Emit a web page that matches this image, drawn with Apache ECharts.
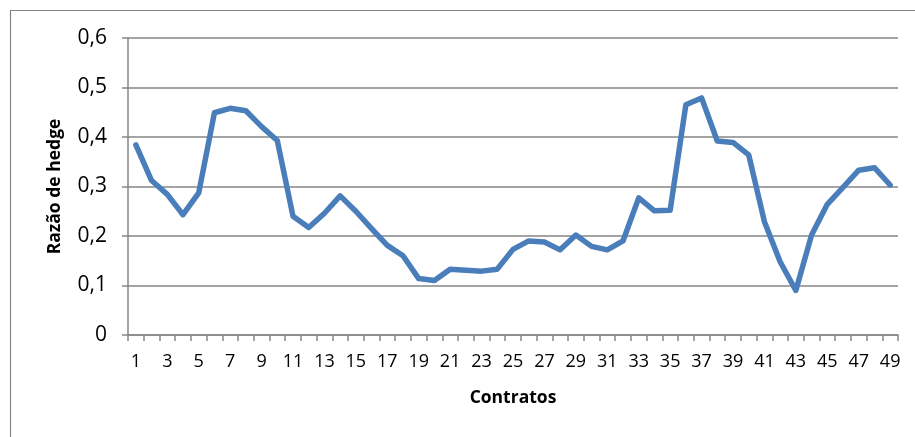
<!DOCTYPE html>
<html><head><meta charset="utf-8">
<script src="https://cdn.jsdelivr.net/npm/echarts@6/dist/echarts.min.js"></script>
<style>html,body{margin:0;padding:0;background:#fff}#c{width:915px;height:437px}</style>
</head><body><div id="c"></div>
<script>
const categories = Array.from({length: 49}, (_, i) => String(i + 1));
const hedgeRatio = [0.384,0.312,0.284,0.243,0.287,0.449,0.458,0.453,0.421,0.393,
  0.240,0.217,0.246,0.281,0.250,0.215,0.181,0.160,0.114,0.110,
  0.133,0.131,0.129,0.133,0.173,0.190,0.188,0.172,0.202,0.179,
  0.172,0.190,0.277,0.251,0.252,0.465,0.479,0.392,0.389,0.364,
  0.229,0.148,0.090,0.202,0.264,0.298,0.333,0.338,0.303];
const yTicks = [0, 0.1, 0.2, 0.3, 0.4, 0.5, 0.6];

const chart = echarts.init(document.getElementById('c'), null, {renderer: 'canvas'});
const font = '"Open Sans", "Liberation Sans", sans-serif';
chart.setOption({
  animation: false,
  backgroundColor: '#fff',
  graphic: [{
    type: 'rect', left: 8, top: 8, silent: true,
    shape: {x: 0, y: 0, width: 1000, height: 1000},
    style: {fill: 'none', stroke: '#868686', lineWidth: 1.2}
  }],
  grid: {left: 128, right: 17, top: 38, bottom: 102, containLabel: false},
  xAxis: {
    type: 'category', data: categories, boundaryGap: true,
    name: 'Contratos', nameLocation: 'middle', nameGap: 54,
    nameTextStyle: {fontFamily: font, fontWeight: 'bold', fontSize: 17.5, color: '#000'},
    axisLine: {lineStyle: {color: '#868686', width: 1.5}},
    axisTick: {show: true, interval: 0, length: 6, lineStyle: {color: '#868686', width: 1.5}},
    axisLabel: {interval: 1, fontFamily: font, fontSize: 18, color: '#000', margin: 18},
    splitLine: {show: false}
  },
  yAxis: {
    type: 'value', min: 0, max: 0.6, interval: 0.1,
    name: 'Razão de hedge', nameLocation: 'middle', nameGap: 64, nameRotate: 90,
    nameTextStyle: {fontFamily: font, fontWeight: 'bold', fontSize: 17.5, color: '#000'},
    axisLine: {show: true, lineStyle: {color: '#868686', width: 1.5}},
    axisTick: {show: true, length: 6, lineStyle: {color: '#868686', width: 1.5}},
    axisLabel: {fontFamily: font, fontSize: 21, color: '#000', margin: 21,
      formatter: v => {
        const t = yTicks.find(x => Math.abs(x - v) < 1e-9);
        return t === 0 ? '0' : (t !== undefined ? t.toFixed(1).replace('.', ',') : '');
      }},
    splitLine: {show: true, lineStyle: {color: '#868686', width: 1.5}}
  },
  series: [{
    type: 'line', data: hedgeRatio, symbol: 'none', smooth: false,
    lineStyle: {color: '#4a7ebb', width: 5.5, join: 'round', cap: 'round'}
  }]
});
</script></body></html>
